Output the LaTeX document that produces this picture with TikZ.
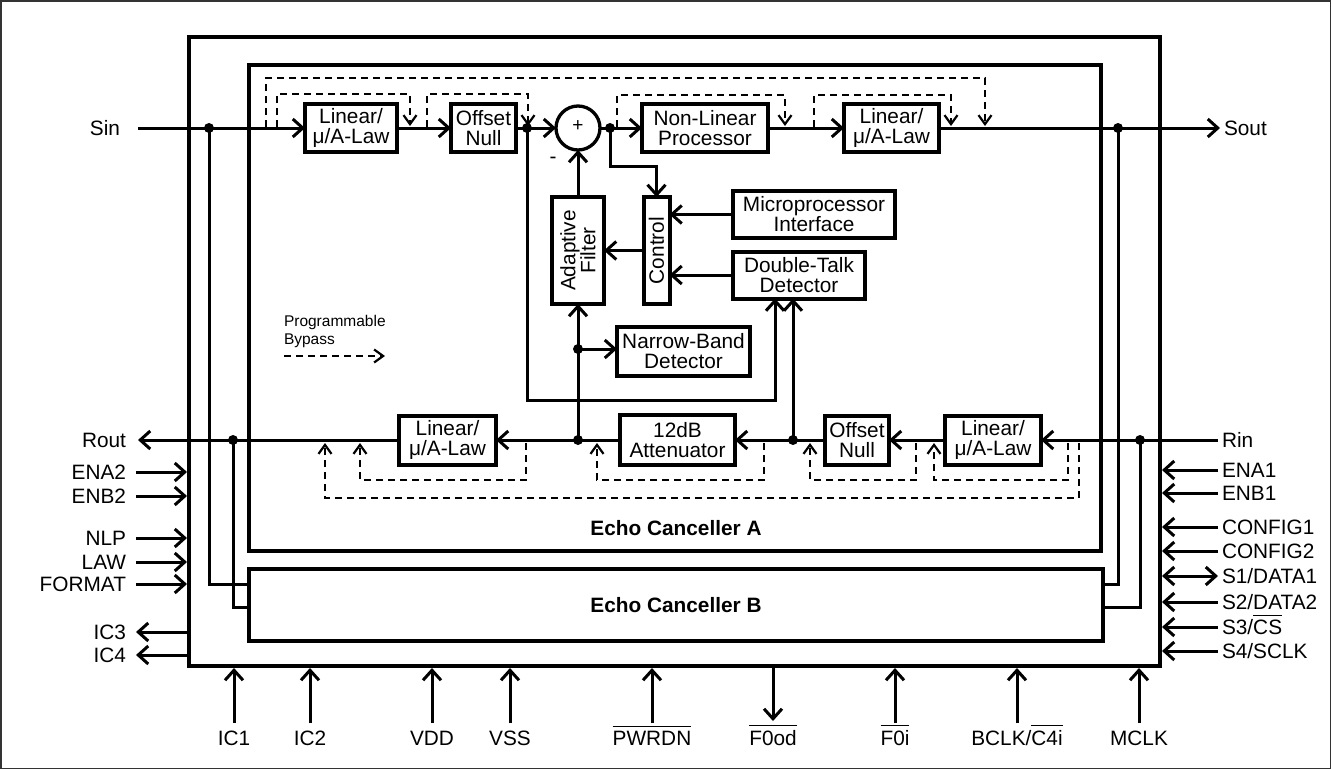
\documentclass[tikz,border=0pt]{standalone}
\usepackage{fontspec}
\setmainfont{Liberation Sans}
\usetikzlibrary{arrows.meta}
\newcommand{\ovl}[1]{\leavevmode\vbox{\hrule height 1.6pt\kern 3.5pt\hbox{#1}}}
\begin{document}
\begin{tikzpicture}[x=1pt,y=-1pt,
  every node/.style={inner sep=0pt, outer sep=0pt},
  fnt/.style={font=\fontsize{20.8}{20}\selectfont},
  fntb/.style={font=\fontsize{20.8}{20}\selectfont\bfseries},
  blk/.style={draw, line width=4pt, align=center, fnt},
  sig/.style={line width=3pt},
  arr/.style={sig, -{Straight Barb[length=10pt,width=18pt]}},
  darr/.style={sig, {Straight Barb[length=10pt,width=18pt]}-{Straight Barb[length=10pt,width=18pt]}},
  byp/.style={line width=2.2pt, dash pattern=on 7pt off 5pt, -{Straight Barb[length=9pt,width=13pt]}},
  jdot/.style={circle, fill, minimum size=10pt},
  pinl/.style={fnt, anchor=base east},
  pinr/.style={fnt, anchor=base west},
  pinb/.style={fnt, anchor=base}]
\useasboundingbox (0,0) rectangle (1331,769);
\draw[line width=1.5pt, black!80] (0.75,0.75) rectangle (1330.25,768.25);

% main frames
\node[draw, line width=4pt, minimum width=971pt, minimum height=629pt] (chip) at (674.5,351.5) {};
\node[draw, line width=4pt, minimum width=852pt, minimum height=486pt] (ecA) at (675,308) {};
\node[draw, line width=4pt, minimum width=854pt, minimum height=72pt, fntb] (ecB) at (676,605) {Echo Canceller B};
\node[fntb] (ecAl) at (676,528) {Echo Canceller A};

% blocks
\node[blk, minimum width=92pt, minimum height=48pt] (linA) at (351,128) {Linear/\\μ/A-Law};
\node[blk, minimum width=65pt, minimum height=48pt] (offA) at (483.5,128) {Offset\\Null};
\node[circle, draw, line width=3.3pt, minimum size=44pt] (sum) at (578,128) {};
\node[font=\fontsize{19}{19}\selectfont] (plus) at (578,126) {+};
\node[fnt] (minus) at (553,160) {-};
\node[blk, minimum width=126pt, minimum height=48pt] (nlp) at (705,128) {Non-Linear\\Processor};
\node[blk, minimum width=95pt, minimum height=48pt] (linA2) at (891.5,128) {Linear/\\μ/A-Law};
\node[blk, minimum width=52pt, minimum height=107pt, label={[rotate=90,align=center,fnt]center:{Adaptive\\Filter}}] (adf) at (578,250.5) {};
\node[blk, minimum width=26pt, minimum height=107pt, label={[rotate=90,fnt]center:Control}] (ctl) at (656.5,250.5) {};
\node[blk, minimum width=162pt, minimum height=47pt] (mpi) at (814,214.5) {Microprocessor\\Interface};
\node[blk, minimum width=132pt, minimum height=47pt] (dtd) at (799,275) {Double-Talk\\Detector};
\node[blk, minimum width=133pt, minimum height=49pt] (nbd) at (683.5,351.5) {Narrow-Band\\Detector};
\node[blk, minimum width=97pt, minimum height=49pt] (linB) at (447.5,440) {Linear/\\μ/A-Law};
\node[blk, minimum width=115pt, minimum height=50pt] (att) at (677.5,440) {12dB\\Attenuator};
\node[blk, minimum width=64pt, minimum height=49pt] (offB) at (857,440) {Offset\\Null};
\node[blk, minimum width=96pt, minimum height=49pt] (linB2) at (993,440) {Linear/\\μ/A-Law};

% junctions
\node[jdot] (jSin) at (209,128) {};
\node[jdot] (jOff) at (527,128) {};
\node[jdot] (jSum) at (610,128) {};
\node[jdot] (jSout) at (1118,128) {};
\node[jdot] (jRin) at (1140,440) {};
\node[jdot] (jOffB) at (793,440) {};
\node[jdot] (jAtt) at (578,440) {};
\node[jdot] (jNb) at (578,349) {};
\node[jdot] (jRout) at (233,440) {};

% signal ends and labels
\coordinate (sin) at (138,128);
\coordinate (sout) at (1220,128);
\coordinate (rin) at (1218,440);
\coordinate (rout) at (138,440);
\node[pinl] (tSin) at (120,135.3) {Sin};
\node[pinr] (tSout) at (1224,135.3) {Sout};
\node[pinr] (tRin) at (1222,447.3) {Rin};
\node[pinl] (tRout) at (126,447.3) {Rout};

% top path
\draw[arr] (sin) -- (linA.west);
\draw[arr] (linA.east) -- (offA.west);
\draw[arr] (offA.east) -- (sum.west);
\draw[arr] (sum.east) -- (nlp.west);
\draw[arr] (nlp.east) -- (linA2.west);
\draw[arr] (linA2.east) -- (sout);
% inner links
\draw[arr] (jSum.center) |- (ctl.north |- 0,166) -- (ctl.north);
\draw[arr] (adf.north) -- (sum.south);
\draw[arr] (ctl.west) -- (adf.east);
\draw[arr] (mpi.west) -- (ctl.east |- mpi.west);
\draw[arr] (dtd.west) -- (ctl.east |- dtd.west);
\coordinate (dtA) at ([xshift=-24pt]dtd.south);
\draw[arr] (jOff.center) |- (dtA |- 0,400) -- (dtA);
\draw[arr] (jOffB.center) -- (jOffB.center |- dtd.south);
\draw[arr] (jAtt.center) -- (adf.south);
\draw[arr] (jNb.center) -- (nbd.west |- jNb.center);
% bottom path
\draw[arr] (rin) -- (linB2.east);
\draw[arr] (linB2.west) -- (offB.east);
\draw[arr] (offB.west) -- (att.east);
\draw[arr] (att.west) -- (linB.east);
\draw[arr] (linB.west) -- (rout);
% links to canceller B
\draw[sig] (jSin.center) |- ([yshift=21pt]ecB.west);
\draw[sig] (jRout.center) |- ([yshift=-2pt]ecB.west);
\draw[sig] (jSout.center) |- ([yshift=21pt]ecB.east);
\draw[sig] (jRin.center) |- ([yshift=-2pt]ecB.east);

% bypass, top
\foreach \a/\b/\h [count=\i] in {266/985/78, 277/410/94, 427/528/94, 617/785/95, 814/951/95} {
  \coordinate (ts\i) at (\a,127);
  \coordinate (te\i) at (\b,126);
  \draw[byp] (ts\i) |- (te\i |- 0,\h) -- (te\i);
}
% bypass, bottom
\foreach \a/\b/\h [count=\i] in {1079/325/498, 526/360/480, 764/597/480, 916/810/480, 1068/934/480} {
  \coordinate (bs\i) at (\a,443);
  \coordinate (be\i) at (\b,443);
  \draw[byp] (bs\i) |- (be\i |- 0,\h) -- (be\i);
}
% legend
\node[font=\fontsize{15.5}{18}\selectfont, align=left, anchor=west] (leg) at (284,331) {Programmable\\Bypass};
\coordinate (lg1) at (284,356);
\coordinate (lg2) at (385,356);
\draw[byp] (lg1) -- (lg2);

% pins
\coordinate (cw) at ([xshift=-2pt]chip.west);
\coordinate (ce) at ([xshift=2pt]chip.east);
\coordinate (cs) at ([yshift=-2pt]chip.south);

\foreach \t/\y [count=\i] in {ENA2/472, ENB2/496, NLP/538, LAW/562, FORMAT/584} {
  \coordinate (lp\i) at (136,\y);
  \node[pinl] (lpt\i) at (126,\y+7.3) {\t};
  \draw[arr] (lp\i) -- (cw |- lp\i);
}
\foreach \t/\y [count=\i] in {IC3/632, IC4/655} {
  \coordinate (lo\i) at (136,\y);
  \node[pinl] (lot\i) at (126,\y+7.3) {\t};
  \draw[arr] (cw |- lo\i) -- (lo\i);
}
\foreach \t/\y [count=\i] in {ENA1/470, ENB1/493, CONFIG1/527, CONFIG2/551} {
  \coordinate (rp\i) at (1218,\y);
  \node[pinr] (rpt\i) at (1222,\y+7.3) {\t};
  \draw[arr] (rp\i) -- (ce |- rp\i);
}
\coordinate (rq1) at (1218,576);
\node[pinr] (rqt1) at (1222,583.3) {S1/DATA1};
\draw[darr] (rq1) -- (ce |- rq1);
\coordinate (rq2) at (1218,602);
\node[pinr] (rqt2) at (1222,609.3) {S2/DATA2};
\draw[arr] (rq2) -- (ce |- rq2);
\coordinate (rq3) at (1218,627);
\node[pinr] (rqt3) at (1222,634.3) {S3/\ovl{CS}};
\draw[arr] (rq3) -- (ce |- rq3);
\coordinate (rq4) at (1218,651);
\node[pinr] (rqt4) at (1222,658.3) {S4/SCLK};
\draw[arr] (rq4) -- (ce |- rq4);

% bottom pins
\foreach \t/\x [count=\i] in {IC1/234, IC2/310, VDD/432, VSS/510, \ovl{PWRDN}/652, \ovl{F0i}/895, MCLK/1139} {
  \coordinate (bp\i) at (\x,723);
  \node[pinb] (bpt\i) at (\x,745) {\t};
  \draw[arr] (bp\i) -- (bp\i |- cs);
}
\coordinate (bq1) at (1017,723);
\node[pinb] (bqt1) at (1017,745) {BCLK/\ovl{C4i}};
\draw[arr] (bq1) -- (bq1 |- cs);
\coordinate (fod) at (773,721);
\node[pinb] (fodt) at (773,745) {\ovl{F0od}};
\draw[arr] (fod |- cs) -- (fod);
\end{tikzpicture}
\end{document}
